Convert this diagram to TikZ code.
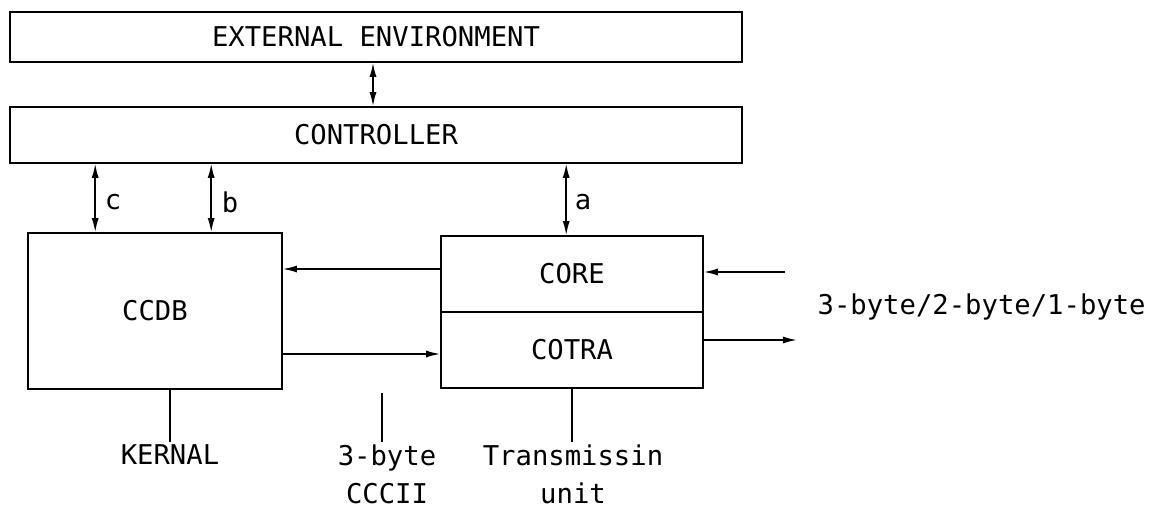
\documentclass[tikz,border=0pt]{standalone}
\usepackage{fontspec}
\setmainfont{DejaVu Sans Mono}
\usetikzlibrary{arrows.meta,positioning,calc}

\begin{document}
\begin{tikzpicture}[
    line width=0.9pt,
    font=\fontsize{15.5}{21.5}\selectfont,
    widebox/.style={rectangle, draw, minimum width=14.64cm, inner sep=0pt},
    unitbox/.style={rectangle, draw, inner sep=0pt},
    arr/.style={-{Latex[length=8pt,width=4pt]}},
    biarr/.style={{Latex[length=8pt,width=4pt]}-{Latex[length=8pt,width=4pt]}},
    tag/.style={inner sep=1pt, align=center, anchor=north}
]
\useasboundingbox (0,0) rectangle (23.08,10.24);

% upper layers
\node[widebox, minimum height=1.0cm]  (ext)  at (7.52,9.50) {EXTERNAL ENVIRONMENT};
\node[widebox, minimum height=1.12cm] (ctrl) at (7.52,7.54) {CONTROLLER};

% functional blocks
\node[unitbox, minimum width=5.08cm, minimum height=3.12cm] (ccdb)  at (3.10,4.02)  {CCDB};
\node[unitbox, minimum width=5.24cm, minimum height=1.52cm] (core)  at (11.44,4.76) {CORE};
\node[unitbox, minimum width=5.24cm, minimum height=1.52cm] (cotra) at (11.44,3.24) {COTRA};

\draw[biarr] ([xshift=-0.06cm]ext.south) -- ([xshift=-0.06cm]ctrl.north);

\coordinate (cfoot) at ([xshift=1.36cm]ccdb.north west);
\coordinate (bfoot) at ([xshift=3.68cm]ccdb.north west);
\coordinate (afoot) at ([xshift=2.52cm]core.north west);
\draw[biarr] (cfoot) -- (cfoot |- ctrl.south);
\draw[biarr] (bfoot) -- (bfoot |- ctrl.south);
\draw[biarr] (afoot) -- (afoot |- ctrl.south);
\node (clbl) at (2.26,6.20) {c};
\node (blbl) at (4.60,6.20) {b};
\node (albl) at (11.66,6.20) {a};

\draw[arr] ([yshift=0.1cm]core.west) -- ([yshift=0.1cm]core.west -| ccdb.east);
\draw[arr] ([yshift=-0.08cm]cotra.west -| ccdb.east) -- ([yshift=-0.08cm]cotra.west);

% external byte streams
\coordinate (inr)  at (15.70,4.80);
\coordinate (outr) at (15.94,3.44);
\draw[arr] (inr) -- (inr -| core.east);
\draw[arr] (outr -| cotra.east) -- (outr);
\node[anchor=west] (bytes) at (16.22,4.10) {3-byte/2-byte/1-byte};

% bottom tags
\node[tag] (kern)  at (3.40,1.40)  {KERNAL};
\node[tag] (cccii) at (7.74,1.40)  {3-byte\\CCCII};
\node[tag] (trans) at (11.46,1.40) {Transmissin\\unit};
\coordinate (kfoot) at ([xshift=0.30cm]ccdb.south);
\coordinate (gap) at (7.64,2.38);
\draw (kfoot) -- (kfoot |- kern.north);
\draw (gap) -- (gap |- cccii.north);
\draw (cotra.south) -- (cotra.south |- trans.north);
\end{tikzpicture}
\end{document}
